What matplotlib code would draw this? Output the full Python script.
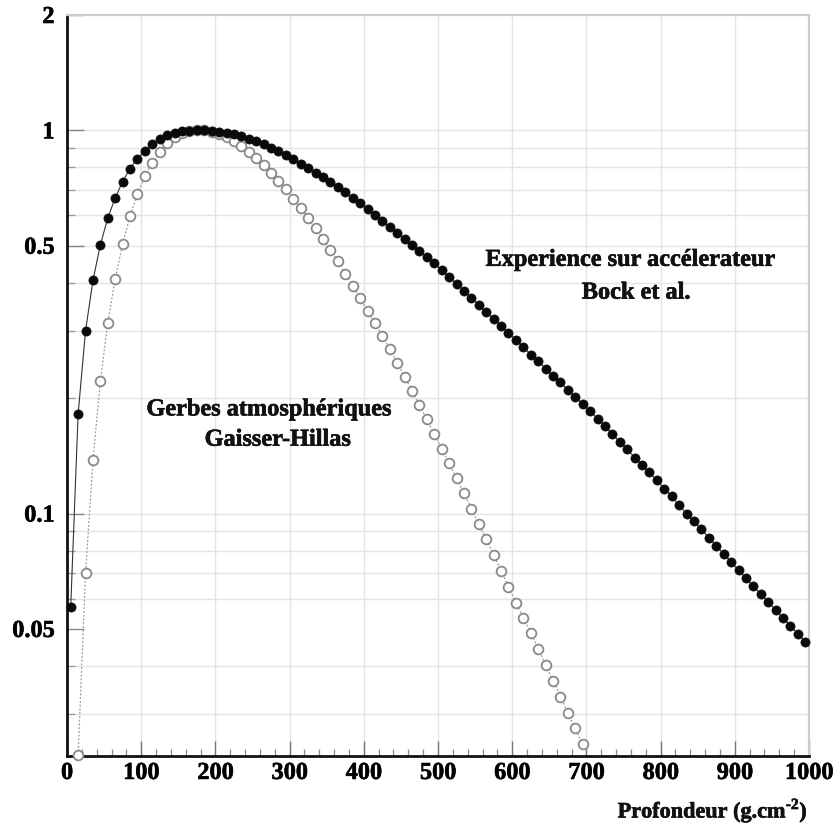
import matplotlib
matplotlib.use("Agg")
import matplotlib.pyplot as plt
import matplotlib.patheffects as pe
from matplotlib.ticker import FixedLocator, NullFormatter, FixedFormatter

plt.rcParams['font.family'] = ['Liberation Serif', 'DejaVu Serif']
plt.rcParams['font.weight'] = 'bold'
plt.rcParams['mathtext.fontset'] = 'custom'
plt.rcParams['mathtext.rm'] = 'Liberation Serif:bold'
plt.rcParams['mathtext.bf'] = 'Liberation Serif:bold'

# Accelerator measurement (Bock et al.), depth in g/cm^2, normalised size
bock_depth = [5, 15, 25, 35, 45, 55, 65, 75, 85, 95,
              105, 115, 125, 135, 145, 155, 165, 175, 185, 195,
              205, 215, 225, 235, 245, 255, 265, 275, 285, 295,
              305, 315, 325, 335, 345, 355, 365, 375, 385, 395,
              405, 415, 425, 435, 445, 455, 465, 475, 485, 495,
              505, 515, 525, 535, 545, 555, 565, 575, 585, 595,
              605, 615, 625, 635, 645, 655, 665, 675, 685, 695,
              705, 715, 725, 735, 745, 755, 765, 775, 785, 795,
              805, 815, 825, 835, 845, 855, 865, 875, 885, 895,
              905, 915, 925, 935, 945, 955, 965, 975, 985, 995]
bock_size = [0.057, 0.182, 0.300, 0.406, 0.503, 0.591, 0.667, 0.735, 0.795, 0.844,
             0.885, 0.920, 0.949, 0.972, 0.986, 0.995, 0.999, 1.000, 1.000, 0.997,
             0.992, 0.985, 0.976, 0.965, 0.951, 0.936, 0.919, 0.901, 0.882, 0.862,
             0.841, 0.819, 0.798, 0.776, 0.754, 0.732, 0.710, 0.689, 0.667, 0.646,
             0.623, 0.601, 0.580, 0.559, 0.539, 0.520, 0.502, 0.484, 0.467, 0.450,
             0.432, 0.414, 0.398, 0.381, 0.366, 0.351, 0.336, 0.322, 0.309, 0.296,
             0.284, 0.272, 0.260, 0.250, 0.239, 0.229, 0.220, 0.210, 0.202, 0.193,
             0.185, 0.177, 0.169, 0.161, 0.154, 0.147, 0.140, 0.134, 0.128, 0.122,
             0.116, 0.111, 0.105, 0.100, 0.0955, 0.0909, 0.0865, 0.0824, 0.0785, 0.0747,
             0.0711, 0.0678, 0.0646, 0.0616, 0.0588, 0.0560, 0.0534, 0.0509, 0.0486, 0.0463]

# Air showers (Gaisser-Hillas profile)
gh_depth = [15, 25, 35, 45, 55, 65, 75, 85, 95,
            105, 115, 125, 135, 145, 155, 165, 175, 185, 195,
            205, 215, 225, 235, 245, 255, 265, 275, 285, 295,
            305, 315, 325, 335, 345, 355, 365, 375, 385, 395,
            405, 415, 425, 435, 445, 455, 465, 475, 485, 495,
            505, 515, 525, 535, 545, 555, 565, 575, 585, 595,
            605, 615, 625, 635, 645, 655, 665, 675, 685, 695]
gh_size = [0.0234, 0.070, 0.138, 0.222, 0.315, 0.410, 0.505, 0.598, 0.683,
           0.760, 0.824, 0.880, 0.925, 0.960, 0.983, 0.996, 1.000, 1.000, 0.992,
           0.978, 0.960, 0.937, 0.910, 0.880, 0.847, 0.812, 0.776, 0.739, 0.701,
           0.664, 0.627, 0.590, 0.555, 0.521, 0.487, 0.455, 0.423, 0.393, 0.365,
           0.338, 0.314, 0.291, 0.269, 0.2476, 0.2277, 0.2092, 0.1920, 0.1761, 0.1614,
           0.1478, 0.1352, 0.1236, 0.1129, 0.1030, 0.0939, 0.0856, 0.0779, 0.0709, 0.0644,
           0.0585, 0.0535, 0.0488, 0.0444, 0.0403, 0.0366, 0.0333, 0.0302, 0.0275, 0.0250]

x_ticks = [0, 100, 200, 300, 400, 500, 600, 700, 800, 900, 1000]
y_ticks = [0.05, 0.1, 0.5, 1, 2]
y_tick_labels = ['0.05', '0.1', '0.5', '1', '2']
y_minor = [0.03, 0.04, 0.06, 0.07, 0.08, 0.09, 0.2, 0.3, 0.4, 0.6, 0.7, 0.8, 0.9]

heavy = [pe.withStroke(linewidth=0.45, foreground='#111111')]

fig = plt.figure(figsize=(8.34, 8.29), dpi=100)
ax = fig.add_axes([67 / 834, 1 - 757 / 829, 742 / 834, 741 / 829])

ax.set_yscale('log')
ax.set_xlim(0, 1000)
ax.set_ylim(0.0233, 2)

# grid
for xv in x_ticks[1:-1]:
    ax.axvline(xv, color='#e4e4e4', lw=1.0, zorder=0)
for yv in y_minor + [0.1, 0.5, 1]:
    ax.axhline(yv, color='#e4e4e4', lw=1.0, zorder=0)

ax.plot(gh_depth, gh_size, linestyle=(0, (1.5, 1.5)), color='#9a9a9a', lw=0.9,
        marker='o', markersize=7.0, markerfacecolor='white',
        markeredgecolor='#8a8a8a', markeredgewidth=1.3, zorder=3, clip_on=False)
ax.plot(bock_depth, bock_size, linestyle='-', color='#333333', lw=0.8,
        marker='o', markersize=6.6, markerfacecolor='#0a0a0a',
        markeredgecolor='#0a0a0a', markeredgewidth=0.5, zorder=4, clip_on=False)

ax.xaxis.set_major_locator(FixedLocator(x_ticks))
ax.xaxis.set_minor_locator(FixedLocator([v for v in range(0, 1001, 20) if v % 100]))
ax.yaxis.set_major_locator(FixedLocator(y_ticks))
ax.yaxis.set_major_formatter(FixedFormatter(y_tick_labels))
ax.yaxis.set_minor_locator(FixedLocator(y_minor))
ax.yaxis.set_minor_formatter(NullFormatter())

ax.tick_params(axis='x', which='major', direction='in', length=11, width=1.0,
               color='#777777', labelsize=17.5, pad=5)
ax.tick_params(axis='x', which='minor', direction='in', length=5, width=0.9,
               color='#888888')
ax.tick_params(axis='y', which='major', direction='in', length=12, width=1.0,
               color='#888888', labelsize=17.5, pad=9)
ax.tick_params(axis='y', which='minor', direction='in', length=6, width=0.9,
               color='#999999')
for lbl in ax.get_xticklabels() + ax.get_yticklabels():
    lbl.set_fontweight('bold')
    lbl.set_path_effects(heavy)

ax.spines['left'].set_color('#111111')
ax.spines['left'].set_linewidth(2.0)
ax.spines['bottom'].set_color('#111111')
ax.spines['bottom'].set_linewidth(2.0)
ax.spines['top'].set_color('#cccccc')
ax.spines['top'].set_linewidth(1.6)
ax.spines['right'].set_color('#cccccc')
ax.spines['right'].set_linewidth(1.6)

txt = dict(fontsize=17.5, fontweight='bold', color='#111111', va='center',
           path_effects=heavy)
ax.text(954, 0.458, 'Experience sur accélerateur', ha='right', **txt)
ax.text(840, 0.376, 'Bock et al.', ha='right', **txt)
ax.text(272, 0.1864, 'Gerbes atmosphériques', ha='center', **txt)
ax.text(284, 0.1554, 'Gaisser-Hillas', ha='center', **txt)

fig.text(808 / 834, 1 - 812 / 829, 'Profondeur (g.cm$^{\u20102}$)', ha='right',
         va='center', fontsize=16, fontweight='bold', color='#111111',
         path_effects=heavy)

fig.savefig('out.png', dpi=100, facecolor='white')
